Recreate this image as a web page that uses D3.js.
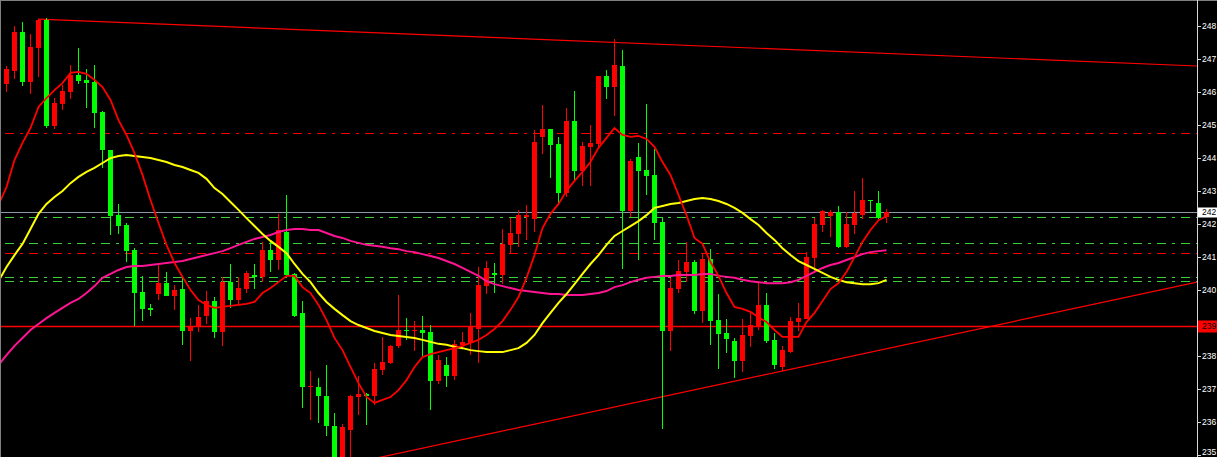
<!DOCTYPE html>
<html><head><meta charset="utf-8">
<script src="https://cdn.jsdelivr.net/npm/d3@7"></script>
<style>html,body{margin:0;padding:0;background:#000;overflow:hidden}</style>
</head><body><svg id="chart" width="1217" height="457"></svg>
<script>
// ---- data (bar index -1 .. 110) ----
const bars = d3.range(-1, 111);
const open = [244.30,
246.54,246.94,248.12,246.61,247.64,248.48,245.27,245.94,246.30,246.82,
246.67,246.61,245.70,244.54,242.57,242.27,241.51,240.24,239.76,240.18,
240.51,240.12,240.33,239.06,239.18,239.51,239.97,239.03,240.54,240.00,
240.33,240.76,240.70,241.51,241.21,242.06,240.79,239.61,237.36,237.36,
237.09,236.18,235.24,236.06,237.06,237.15,237.09,237.88,238.09,238.61,
239.09,239.06,239.09,239.03,237.54,238.03,237.70,238.64,238.70,239.12,
240.42,240.82,240.76,241.67,242.00,242.51,242.45,244.94,245.18,244.73,
243.24,245.42,243.91,244.64,244.73,246.79,246.45,247.09,242.70,244.33,
243.94,243.79,242.36,239.06,240.33,240.85,241.15,239.67,241.24,239.39,
239.00,238.76,238.15,238.91,239.21,239.85,238.79,237.97,238.42,239.33,
239.42,241.27,242.27,242.54,242.67,241.61,242.27,242.57,243.03,242.94,242.51];
const high = [246.57,
247.09,248.30,248.42,248.06,248.51,248.54,246.12,246.51,247.12,247.64,
247.00,247.12,245.73,244.54,242.91,242.33,241.57,240.73,239.88,241.06,
240.85,240.45,240.70,239.45,239.85,240.27,240.09,240.70,241.09,240.70,
240.88,241.09,241.76,241.82,242.61,243.18,240.82,239.97,237.85,237.64,
238.03,236.57,236.24,237.12,237.70,237.18,238.09,238.88,238.64,240.15,
239.45,239.36,239.51,239.24,238.33,238.27,238.79,239.03,239.61,241.00,
241.18,241.12,242.15,242.48,242.73,242.88,245.15,245.91,245.18,244.94,
245.82,246.33,244.79,245.30,246.79,246.97,247.91,247.57,244.27,244.76,
245.94,244.57,242.51,240.67,241.21,241.76,241.21,241.42,241.54,240.18,
239.42,238.85,239.42,239.64,240.51,240.21,239.00,238.61,239.48,239.91,
241.45,242.48,242.73,242.73,242.85,242.67,243.30,243.70,243.03,243.30,242.76];
const low = [244.30,
246.30,246.70,246.48,246.24,246.76,245.21,245.18,245.76,246.09,246.54,
245.82,245.21,244.00,241.97,242.00,241.15,239.21,239.36,239.51,240.00,
240.12,239.70,238.64,238.15,239.03,239.27,238.85,238.61,239.76,239.85,
240.21,240.33,240.54,240.85,240.91,240.73,239.48,236.73,236.36,236.27,
235.88,235.10,235.12,235.24,236.51,236.21,236.82,237.73,238.06,238.54,
238.79,238.45,238.30,236.67,237.45,237.36,237.57,238.54,238.33,238.09,
240.18,240.21,240.48,241.39,241.61,241.82,242.06,244.42,243.70,242.94,
243.12,243.64,243.45,243.45,244.64,246.09,245.57,240.94,242.51,241.21,
243.18,241.82,236.09,238.45,240.21,240.54,239.57,239.30,238.64,237.91,
238.39,237.64,237.82,238.57,239.09,238.70,237.91,237.85,238.39,239.06,
239.42,240.82,242.06,241.91,241.57,241.57,242.00,242.45,242.64,242.45,242.33];
const close = [246.57,
247.00,248.12,246.61,247.67,248.48,245.27,245.97,246.33,246.82,246.64,
246.57,245.67,244.54,242.54,242.24,241.48,240.21,239.73,239.70,240.51,
240.12,240.30,239.06,239.21,239.48,239.97,239.03,240.54,240.00,240.36,
240.82,240.70,241.51,241.21,242.12,240.76,239.51,237.36,237.39,237.09,
236.18,235.24,236.15,237.09,237.15,237.09,237.91,238.12,238.61,239.09,
239.06,239.09,239.00,237.54,238.18,237.70,238.67,238.73,239.21,240.45,
240.97,240.76,241.70,242.03,242.57,242.57,244.79,245.18,244.70,243.24,
245.42,243.91,244.67,244.76,246.79,246.45,247.12,242.70,244.21,243.91,
243.76,242.33,239.06,240.36,240.88,241.15,239.67,241.24,239.36,238.97,
238.82,238.15,238.94,239.24,239.85,238.76,238.03,238.48,239.36,239.45,
241.30,242.30,242.70,242.67,241.61,242.30,242.64,243.03,243.00,242.48,242.67];

const maFast = [242.88,
243.42,244.24,244.76,245.21,245.85,246.12,246.36,246.57,246.88,246.91,
246.85,246.67,246.45,246.06,245.45,245.00,244.45,243.79,243.03,242.33,
241.67,241.12,240.70,240.30,240.00,239.85,239.76,239.79,239.82,239.85,
239.88,239.94,240.21,240.36,240.54,240.73,240.73,240.39,240.21,239.85,
239.39,238.85,238.48,237.97,237.48,237.06,236.88,236.97,237.06,237.27,
237.57,237.97,238.27,238.36,238.42,238.48,238.54,238.61,238.70,238.79,
238.94,239.12,239.36,239.70,240.09,240.67,241.36,242.18,242.61,242.91,
243.30,243.61,243.88,244.18,244.61,244.91,245.21,245.00,244.94,244.97,
244.88,244.64,244.18,243.79,243.18,242.57,241.88,241.70,241.15,240.73,
240.21,239.79,239.73,239.64,239.48,239.33,239.09,238.88,238.88,238.88,
239.33,239.61,239.97,240.33,240.51,240.85,241.30,241.76,242.12,242.42,242.54];
const maMid = [240.57,
241.00,241.36,241.70,242.15,242.61,242.91,243.12,243.30,243.54,243.73,
243.88,244.00,244.15,244.30,244.36,244.39,244.36,244.33,244.30,244.24,
244.18,244.09,244.03,243.94,243.85,243.67,243.39,243.21,242.97,242.73,
242.48,242.24,242.00,241.79,241.61,241.42,241.09,240.79,240.54,240.21,
239.94,239.73,239.54,239.36,239.24,239.15,239.06,239.00,238.94,238.91,
238.88,238.85,238.79,238.73,238.67,238.64,238.58,238.54,238.48,238.45,
238.42,238.42,238.42,238.48,238.54,238.70,238.94,239.30,239.61,239.91,
240.18,240.48,240.79,241.09,241.36,241.67,241.94,242.09,242.24,242.39,
242.57,242.79,242.85,242.91,242.94,243.00,243.06,243.09,243.06,243.00,
242.91,242.79,242.64,242.45,242.27,242.03,241.82,241.57,241.36,241.18,
241.06,240.94,240.82,240.70,240.61,240.54,240.51,240.48,240.48,240.51,240.61];
const maSlow = [238.03,
238.33,238.61,238.85,239.09,239.27,239.45,239.61,239.76,239.91,240.03,
240.21,240.42,240.67,240.79,240.91,241.00,241.03,241.03,241.06,241.09,
241.12,241.15,241.18,241.24,241.30,241.36,241.42,241.48,241.57,241.67,
241.76,241.85,241.91,241.97,242.06,242.12,242.15,242.15,242.12,242.12,
242.03,241.94,241.88,241.79,241.73,241.67,241.64,241.61,241.57,241.54,
241.48,241.45,241.39,241.33,241.27,241.18,241.09,240.97,240.85,240.73,
240.57,240.48,240.42,240.36,240.30,240.27,240.24,240.21,240.18,240.18,
240.15,240.15,240.15,240.18,240.21,240.27,240.39,240.45,240.54,240.61,
240.67,240.70,240.73,240.73,240.76,240.76,240.76,240.79,240.79,240.73,
240.70,240.67,240.61,240.57,240.54,240.51,240.51,240.51,240.54,240.61,
240.73,240.85,240.97,241.06,241.12,241.21,241.30,241.39,241.45,241.48,241.51];

const tickValues = [248.3,247.3,246.3,245.3,244.3,243.3,242.3,241.3,240.3,239.3,238.3,237.3,236.3,235.3];
const tickLabels = ["248","247","246","245","244","243","242","241","240","239","238","237","236","235"];
const currentPrice = 242.67, currentLabel = "242";
const hLevel = 239.21, hLevelLabel = "239";
const greenLevels = [242.51, 241.73, 240.70, 240.57];
const redLevels = [245.06, 241.42];
const trendTop = [[4, 248.51], [148.875, 247.09]];
const trendBottom = [[45.75, 235.18], [148.875, 240.54]];

// ---- drawing ----
const W = 1217, H = 457, plotR = 1197;
const svg = d3.select("#chart");
const x = d3.scaleLinear().domain([-1, 110]).range([-2, 886]);
const y = d3.scaleLinear().domain([249.09, 249.09 - H / 33]).range([0, H]);

svg.append("rect").attr("width", W).attr("height", H).attr("fill", "#000");
svg.append("defs").append("clipPath").attr("id", "plot")
  .append("rect").attr("x", 0).attr("y", 0).attr("width", plotR).attr("height", H);
const g = svg.append("g").attr("clip-path", "url(#plot)");

const py = v => Math.round(y(v)) + 0.5;

// dash-dot levels
greenLevels.forEach(v => g.append("line").attr("x1", 5).attr("x2", plotR).attr("y1", py(v)).attr("y2", py(v))
  .attr("stroke", "#3ad23a").attr("stroke-width", 1).attr("stroke-dasharray", "9,6,3,6").attr("shape-rendering", "crispEdges"));
redLevels.forEach(v => g.append("line").attr("x1", 5).attr("x2", plotR).attr("y1", py(v)).attr("y2", py(v))
  .attr("stroke", "#FF0000").attr("stroke-width", 1).attr("stroke-dasharray", "9,6,3,6").attr("shape-rendering", "crispEdges"));

// current price line
g.append("line").attr("x1", 0).attr("x2", plotR).attr("y1", py(currentPrice)).attr("y2", py(currentPrice))
  .attr("stroke", "#8899aa").attr("stroke-width", 1).attr("shape-rendering", "crispEdges");
// horizontal red level
g.append("line").attr("x1", 0).attr("x2", plotR).attr("y1", py(hLevel)).attr("y2", py(hLevel))
  .attr("stroke", "#FF0000").attr("stroke-width", 1.3);

// trend lines
[trendTop, trendBottom].forEach(t => g.append("line")
  .attr("x1", x(t[0][0])).attr("y1", y(t[0][1])).attr("x2", x(t[1][0])).attr("y2", y(t[1][1]))
  .attr("stroke", "#FF0000").attr("stroke-width", 1.2));

// candles
const data = bars.map((b, i) => ({b, o: open[i], h: high[i], l: low[i], c: close[i]}));
const col = d => d.c >= d.o ? "#FF0000" : "#00FF00";
g.selectAll(".wick").data(data).enter().append("rect")
  .attr("x", d => x(d.b)).attr("width", 1)
  .attr("y", d => Math.round(y(d.h))).attr("height", d => Math.max(1, Math.round(y(d.l)) - Math.round(y(d.h))))
  .attr("fill", col).attr("shape-rendering", "crispEdges");
g.selectAll(".body").data(data).enter().append("rect")
  .attr("x", d => x(d.b) - 2).attr("width", 5)
  .attr("y", d => Math.round(y(Math.max(d.o, d.c))))
  .attr("height", d => Math.max(1, Math.round(y(Math.min(d.o, d.c))) - Math.round(y(Math.max(d.o, d.c)))))
  .attr("fill", col).attr("shape-rendering", "crispEdges");

// moving averages
const line = arr => d3.line().x((d, i) => x(bars[i]) + 0.5).y(d => y(d))(arr);
g.append("path").attr("d", line(maSlow)).attr("fill", "none").attr("stroke", "#FF1493").attr("stroke-width", 2);
g.append("path").attr("d", line(maMid)).attr("fill", "none").attr("stroke", "#FFFF00").attr("stroke-width", 2);
g.append("path").attr("d", line(maFast)).attr("fill", "none").attr("stroke", "#FF0000").attr("stroke-width", 1.8);

// borders
svg.append("line").attr("x1", 0).attr("x2", W).attr("y1", 0.5).attr("y2", 0.5).attr("stroke", "#808080");
svg.append("line").attr("x1", 0.5).attr("x2", 0.5).attr("y1", 0).attr("y2", H).attr("stroke", "#808080");

// right axis
const FONT = "Liberation Sans, Arial, sans-serif", FS = 8.5, TX = 1202;
const ax = svg.append("g");
ax.append("line").attr("x1", plotR + 0.5).attr("x2", plotR + 0.5).attr("y1", 0).attr("y2", H)
  .attr("stroke", "#d8d8d8").attr("stroke-width", 1);
tickValues.forEach((v, i) => {
  const yy = py(v);
  ax.append("line").attr("x1", plotR + 1).attr("x2", plotR + 4).attr("y1", yy).attr("y2", yy)
    .attr("stroke", "#d8d8d8").attr("shape-rendering", "crispEdges");
  // labels hidden under the price boxes in the reference are not drawn
  if (Math.abs(yy - py(hLevel)) < 8 || Math.abs(yy - py(currentPrice)) < 7) return;
  ax.append("text").attr("x", TX).attr("y", Math.min(yy, H - 5)).attr("dy", "0.35em")
    .attr("fill", "#ffffff").attr("font-family", FONT).attr("font-size", FS)
    .text(tickLabels[i]);
});
function priceBox(v, label, bg, fg, hgt) {
  const yy = py(v);
  ax.append("rect").attr("x", plotR + 1).attr("y", yy - hgt / 2).attr("width", W - plotR - 1).attr("height", hgt).attr("fill", bg);
  ax.append("text").attr("x", TX).attr("y", yy).attr("dy", "0.35em")
    .attr("fill", fg).attr("font-family", FONT).attr("font-size", FS).text(label);
}
priceBox(currentPrice, currentLabel, "#ffffff", "#000000", 10);
priceBox(hLevel, hLevelLabel, "#FF0000", "#000000", 12);
</script></body></html>
